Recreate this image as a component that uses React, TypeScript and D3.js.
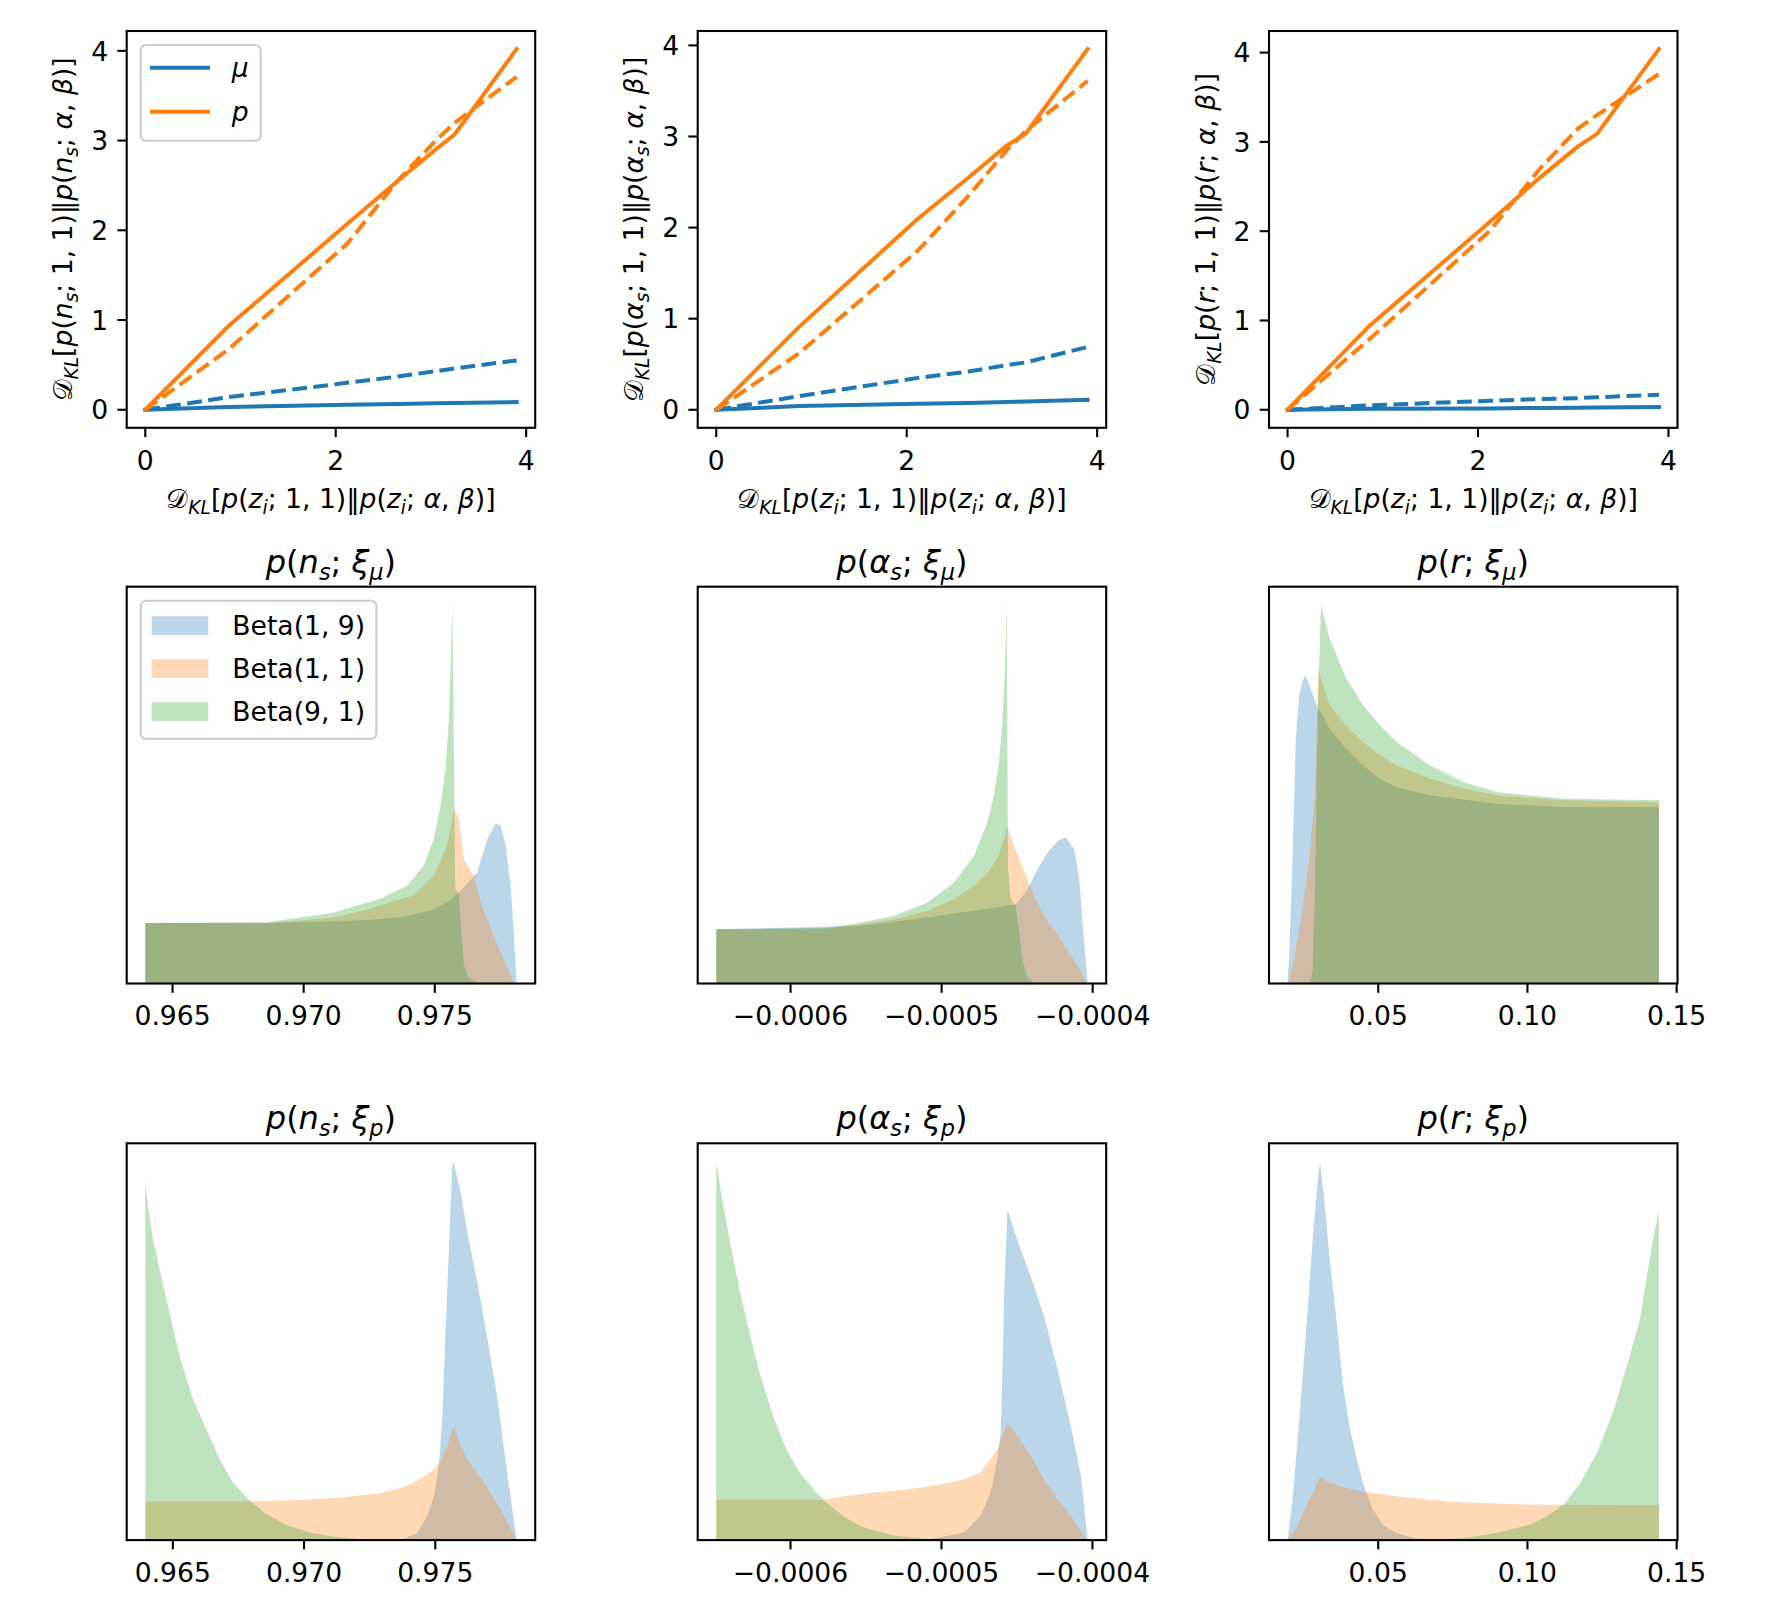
import React from 'react';
import * as d3 from 'd3';

const W = 1766;
const H = 1607;
const FONT = "'DejaVu Sans', sans-serif";
const CAL = "'DejaVu Sans', 'DejaVu Serif', 'Noto Sans', serif";

// ---------- Row 1 data: KL divergences ----------
const xKL = [0, 0.87, 2.12, 2.65, 3.05, 3.25, 3.9];

const nsMuSolid = [0, 0.03, 0.055, 0.065, 0.072, 0.076, 0.085];
const nsMuDashed = [0, 0.14, 0.3, 0.37, 0.43, 0.46, 0.55];
const nsPSolid = [0, 0.93, 2.07, 2.55, 2.9, 3.07, 4.02];
const nsPDashed = [0, 0.67, 1.85, 2.55, 3.0, 3.2, 3.71];

const asMuSolid = [0, 0.04, 0.065, 0.075, 0.085, 0.09, 0.11];
const asMuDashed = [0, 0.15, 0.35, 0.42, 0.49, 0.52, 0.69];
const asPSolid = [0, 0.91, 2.1, 2.55, 2.9, 3.03, 3.96];
const asPDashed = [0, 0.62, 1.75, 2.35, 2.85, 3.06, 3.61];

const rMuSolid = [0, 0.01, 0.015, 0.02, 0.022, 0.025, 0.03];
const rMuDashed = [0, 0.05, 0.1, 0.12, 0.13, 0.14, 0.167];
const rPSolid = [0, 0.95, 2.1, 2.6, 2.95, 3.09, 4.04];
const rPDashed = [0, 0.8, 2.0, 2.7, 3.15, 3.3, 3.76];

const klXTicks = [0, 2, 4];
const klYTicks = [0, 1, 2, 3, 4];

// ---------- Row 2 data: histograms p(.; xi_mu) ----------
const nsMuBlue = [[0.96396,0],[0.96396,16.0],[0.96859,16.0],[0.97113,16.4],[0.97241,16.8],[0.97368,17.5],[0.97495,19.5],[0.97547,21.5],[0.97592,24.0],[0.97662,29.4],[0.977,38.2],[0.97732,42.2],[0.97751,41.8],[0.9777,36.5],[0.97789,25.9],[0.97802,12.7],[0.97812,0]];
const nsMuOrange = [[0.96396,0],[0.96396,16.0],[0.96859,16.0],[0.97113,17.4],[0.97241,19.5],[0.97292,20.6],[0.9742,23.3],[0.97496,28.5],[0.97547,36.5],[0.97567,43.5],[0.97573,46.6],[0.97592,43.5],[0.97611,32.9],[0.97649,28.5],[0.97675,21.5],[0.97713,14.4],[0.97751,8.3],[0.97802,0]];
const nsMuGreen = [[0.96396,0],[0.96396,16.0],[0.96859,16.2],[0.97113,18.7],[0.97292,22.4],[0.97395,25.9],[0.97458,31.2],[0.97496,38.2],[0.97522,47.0],[0.97541,56.7],[0.97554,69.9],[0.97567,99.9],[0.97578,25.0],[0.97592,24.0],[0.976,14.0],[0.97611,5.0],[0.97623,2.0],[0.97662,0]];

const asMuBlue = [[-6.4917e-4,0],[-6.4917e-4,14.3],[-5.5393e-4,15.2],[-5.0964e-4,17.4],[-4.8749e-4,18.7],[-4.6534e-4,20.0],[-4.5094e-4,20.9],[-4.4319e-4,24.8],[-4.3655e-4,30.1],[-4.299e-4,34.5],[-4.2326e-4,37.6],[-4.1772e-4,38.5],[-4.1219e-4,35.4],[-4.0886e-4,27.5],[-4.0665e-4,16.0],[-4.0333e-4,0]];
const asMuOrange = [[-6.4917e-4,0],[-6.4917e-4,14.3],[-5.7829e-4,14.3],[-5.5393e-4,15.6],[-5.3178e-4,16.9],[-5.0964e-4,19.1],[-4.9192e-4,22.2],[-4.7863e-4,25.7],[-4.6977e-4,29.2],[-4.6313e-4,32.8],[-4.587e-4,38.1],[-4.5648e-4,41.6],[-4.5205e-4,36.3],[-4.4762e-4,31.9],[-4.4319e-4,27.5],[-4.3876e-4,23.1],[-4.3212e-4,17.8],[-4.2104e-4,11.6],[-4.0997e-4,4.6],[-4.0333e-4,0]];
const asMuGreen = [[-6.4917e-4,0],[-6.4917e-4,14.3],[-5.7608e-4,14.7],[-5.5393e-4,16.0],[-5.3178e-4,17.8],[-5.0964e-4,21.3],[-4.9192e-4,26.6],[-4.7863e-4,33.6],[-4.6977e-4,42.5],[-4.6534e-4,49.5],[-4.6202e-4,58.3],[-4.598e-4,68.9],[-4.5803e-4,83.0],[-4.5692e-4,99.7],[-4.5604e-4,30.0],[-4.5426e-4,22.2],[-4.5094e-4,20.4],[-4.4873e-4,14.3],[-4.4651e-4,6.3],[-4.4319e-4,1.5],[-4.3876e-4,0]];

const rMuBlue = [[0.01962,0],[0.02018,8],[0.0213,33],[0.02242,65],[0.02354,75.9],[0.02466,79.5],[0.02556,81.2],[0.02691,78.6],[0.02859,75.1],[0.02971,72.4],[0.03139,70.6],[0.03363,67.1],[0.03924,61.8],[0.04484,57.4],[0.05045,53.9],[0.05606,51.7],[0.06727,49.5],[0.08969,47.3],[0.11211,46.4],[0.14406,46.4],[0.14406,0]];
const rMuOrange = [[0.01962,0],[0.02018,0.5],[0.02242,9],[0.02466,20],[0.02691,33],[0.02859,48],[0.02937,65],[0.02993,83.0],[0.03139,78.6],[0.03363,73.3],[0.03924,67.8],[0.04484,63.6],[0.05045,60.1],[0.05606,57.4],[0.06727,53.9],[0.07848,51.3],[0.08969,49.5],[0.11211,48.2],[0.14406,47.7],[0.14406,0]];
const rMuGreen = [[0.02691,0],[0.02803,3],[0.02892,30],[0.02971,70.6],[0.03083,99.4],[0.03363,90.9],[0.03924,80.3],[0.04484,73.3],[0.05045,68.0],[0.05606,63.6],[0.06727,57.4],[0.07848,53.0],[0.08969,50.4],[0.11211,48.6],[0.14406,48.2],[0.14406,0]];

// ---------- Row 3 data: histograms p(.; xi_p) ----------
const nsPBlue = [[0.97368,0],[0.97431,1.9],[0.97469,6.3],[0.97495,11.6],[0.97514,19.6],[0.97527,32.8],[0.97539,54.8],[0.97552,76.8],[0.97565,98.8],[0.97569,99.7],[0.97597,91.8],[0.97622,81.2],[0.9766,68.0],[0.97699,53.0],[0.97737,37.2],[0.97762,24.0],[0.97788,10.7],[0.9781,0]];
const nsPOrange = [[0.96396,0],[0.96396,10.2],[0.9679,10.2],[0.96986,10.6],[0.97113,11.1],[0.97277,12.2],[0.97368,13.6],[0.97431,15.6],[0.97495,18.6],[0.9752,20.9],[0.97546,24.8],[0.97565,29.2],[0.97571,29.7],[0.97597,24.8],[0.97622,21.3],[0.97686,15.2],[0.97749,8.1],[0.9781,0]];
const nsPGreen = [[0.96395,0],[0.96395,94.5],[0.96404,88.8],[0.96424,79.5],[0.96449,71.6],[0.96487,60.2],[0.96525,48.7],[0.96576,37.3],[0.96627,29.3],[0.96678,21.4],[0.96729,15.2],[0.96793,10.4],[0.96857,6.9],[0.96933,4.0],[0.97022,2.0],[0.97112,0.9],[0.97213,0.3],[0.97368,0.05],[0.97495,0]];

const asPBlue = [[-5.074e-4,0],[-5.074e-4,0.3],[-4.852e-4,2.0],[-4.741e-4,6.4],[-4.675e-4,12.6],[-4.63e-4,21.4],[-4.608e-4,28.5],[-4.597e-4,43.4],[-4.585e-4,65.0],[-4.563e-4,87.5],[-4.497e-4,79.5],[-4.409e-4,69.9],[-4.32e-4,59.3],[-4.231e-4,45.2],[-4.143e-4,30.2],[-4.076e-4,17.0],[-4.032e-4,0]];
const asPOrange = [[-6.4917e-4,0],[-6.4917e-4,10.7],[-5.7829e-4,10.7],[-5.6501e-4,11.6],[-5.4286e-4,12.7],[-5.2071e-4,13.5],[-4.9856e-4,14.9],[-4.852e-4,16.1],[-4.741e-4,17.9],[-4.63e-4,24.0],[-4.563e-4,31.1],[-4.497e-4,27.6],[-4.409e-4,22.3],[-4.32e-4,16.1],[-4.231e-4,10.8],[-4.143e-4,6.4],[-4.043e-4,0.3],[-4.0333e-4,0]];
const asPGreen = [[-6.4917e-4,0],[-6.4917e-4,100.2],[-6.4585e-4,91.8],[-6.4031e-4,79.5],[-6.3367e-4,66.2],[-6.2702e-4,54.8],[-6.2038e-4,44.2],[-6.1152e-4,32.8],[-6.0266e-4,24.0],[-5.938e-4,17.8],[-5.8273e-4,12.5],[-5.7608e-4,9.9],[-5.6501e-4,6.3],[-5.5393e-4,3.7],[-5.3178e-4,1.2],[-5.0964e-4,0.35],[-4.8749e-4,0]];

const rPBlue = [[0.01962,0],[0.0213,10.7],[0.02354,31.9],[0.02579,54.8],[0.02803,79.5],[0.02971,95.3],[0.03049,100.2],[0.03195,90.0],[0.03363,75.1],[0.03588,59.2],[0.03812,41.6],[0.04036,30.1],[0.0426,22.2],[0.04484,15.2],[0.04821,8.1],[0.05157,4.1],[0.05606,1.9],[0.06166,0.6],[0.06727,0.2],[0.07848,0]];
const rPOrange = [[0.01962,0],[0.02242,2.8],[0.02579,9.0],[0.02915,14.3],[0.03049,16.7],[0.03363,15.2],[0.03924,13.8],[0.04484,12.9],[0.05606,11.6],[0.06727,10.7],[0.07848,10.0],[0.08969,9.7],[0.1009,9.4],[0.12332,9.4],[0.14406,9.3],[0.14406,0]];
const rPGreen = [[0.06727,0],[0.07287,0.2],[0.07848,0.5],[0.08969,1.9],[0.1009,4.1],[0.1065,6.3],[0.11211,9.4],[0.11772,15.2],[0.12332,23.1],[0.12893,34.5],[0.13453,49.5],[0.1379,59.2],[0.14014,70.6],[0.14238,81.2],[0.14406,86.9],[0.14406,0]];

const nsTicks = [0.965, 0.97, 0.975];
const asTicks = [-0.0006, -0.0005, -0.0004];
const rTicks = [0.05, 0.1, 0.15];

const histLabels = ['Beta(1, 9)', 'Beta(1, 1)', 'Beta(9, 1)'];
const histColors = ['#1f77b4', '#ff7f0e', '#2ca02c'];
const lineLabels = ['\u03bc', 'p'];

// ---------- layout ----------
const COLS = [126.7, 697.7, 1269];
const ROWS = [31, 586.7, 1143.3];
const AW = 408.5;
const AH = 396.8;
const FS = 26.6;
const TFS = 32;
const TICK = 9.3;
const SPINE = 2.1;

type Seg = { t: string; i?: boolean; sub?: boolean; cal?: boolean };
const S = (t: string, f = ''): Seg => ({ t, i: f.includes('i'), sub: f.includes('s'), cal: f.includes('c') });

function Rich({ segs, size }: { segs: Seg[]; size: number }) {
  let cur = 0;
  return (
    <>
      {segs.map((s, k) => {
        const target = s.sub ? size * 0.22 : 0;
        const dy = target - cur;
        cur = target;
        return (
          <tspan
            key={k}
            dy={dy !== 0 ? dy : undefined}
            fontSize={s.sub ? size * 0.7 : size}
            fontStyle={s.i ? 'italic' : 'normal'}
            fontFamily={s.cal ? CAL : FONT}
          >
            {s.t}
          </tspan>
        );
      })}
    </>
  );
}

function dklLabel(v: Seg[]): Seg[] {
  return [
    S('\u{1D49F}', 'c'), S('KL', 'is'), S('['), S('p', 'i'), S('('), ...v,
    S('; 1, 1)\u2016'), S('p', 'i'), S('('), ...v,
    S('; '), S('\u03b1', 'i'), S(', '), S('\u03b2', 'i'), S(')]'),
  ];
}

const varNs = [S('n', 'i'), S('s', 'is')];
const varAs = [S('\u03b1', 'i'), S('s', 'is')];
const varR = [S('r', 'i')];
const varZ = [S('z', 'i'), S('i', 'is')];

function Frame({ left, top }: { left: number; top: number }) {
  return <rect x={left} y={top} width={AW} height={AH} fill="none" stroke="#000" strokeWidth={SPINE} />;
}

function KLPanel({ col, muS, muD, pS, pD, v, legend }: any) {
  const left = COLS[col];
  const top = ROWS[0];
  const xe = d3.extent(xKL) as [number, number];
  const ye = d3.extent([...muS, ...muD, ...pS, ...pD]) as [number, number];
  const xp = (xe[1] - xe[0]) * 0.05;
  const yp = (ye[1] - ye[0]) * 0.05;
  const x = d3.scaleLinear().domain([xe[0] - xp, xe[1] + xp]).range([left, left + AW]);
  const y = d3.scaleLinear().domain([ye[0] - yp, ye[1] + yp]).range([top + AH, top]);
  const line = d3.line<number>().x((_, i) => x(xKL[i])).y((d) => y(d));
  const bottom = top + AH;
  const dash = '14.8,6.4';
  return (
    <g>
      <path d={line(muS)!} fill="none" stroke={histColors[0]} strokeWidth={4} strokeLinecap="square" strokeLinejoin="round" />
      <path d={line(pS)!} fill="none" stroke={histColors[1]} strokeWidth={4} strokeLinecap="square" strokeLinejoin="round" />
      <path d={line(muD)!} fill="none" stroke={histColors[0]} strokeWidth={4} strokeDasharray={dash} strokeLinejoin="round" />
      <path d={line(pD)!} fill="none" stroke={histColors[1]} strokeWidth={4} strokeDasharray={dash} strokeLinejoin="round" />
      <Frame left={left} top={top} />
      {klXTicks.map((t) => (
        <g key={'x' + t}>
          <line x1={x(t)} x2={x(t)} y1={bottom} y2={bottom + TICK} stroke="#000" strokeWidth={SPINE} />
          <text x={x(t)} y={bottom + 41.7} textAnchor="middle" fontSize={FS} fontFamily={FONT}>{d3.format('d')(t)}</text>
        </g>
      ))}
      {klYTicks.map((t) => (
        <g key={'y' + t}>
          <line x1={left - TICK} x2={left} y1={y(t)} y2={y(t)} stroke="#000" strokeWidth={SPINE} />
          <text x={left - 2 * TICK} y={y(t) + FS * 0.365} textAnchor="end" fontSize={FS} fontFamily={FONT}>{d3.format('d')(t)}</text>
        </g>
      ))}
      <text x={left + AW / 2} y={bottom + 80.5} textAnchor="middle" fontSize={FS} fontFamily={FONT} style={{ whiteSpace: 'pre' }}>
        <Rich segs={dklLabel(varZ)} size={FS} />
      </text>
      <text transform={`translate(${left - 54.3},${top + AH / 2}) rotate(-90)`} textAnchor="middle" fontSize={FS} fontFamily={FONT} style={{ whiteSpace: 'pre' }}>
        <Rich segs={dklLabel(v)} size={FS} />
      </text>
      {legend && (
        <g>
          <rect x={left + 14} y={top + 14} width={120} height={95.7} rx={5.3} fill="#fff" fillOpacity={0.8} stroke="#ccc" strokeWidth={SPINE} />
          {lineLabels.map((lab, k) => (
            <g key={lab}>
              <line x1={left + 23.3} x2={left + 83.3} y1={top + 36.7 + k * 44} y2={top + 36.7 + k * 44} stroke={histColors[k]} strokeWidth={4} />
              <text x={left + 105} y={top + 36.7 + k * 44 + 9.6} fontSize={FS} fontFamily={FONT} fontStyle="italic">{lab}</text>
            </g>
          ))}
        </g>
      )}
    </g>
  );
}

function HistPanel({ col, row, series, ticks, fmt, title, legend }: any) {
  const left = COLS[col];
  const top = ROWS[row];
  const bottom = top + AH;
  const xs = (series as number[][][]).flatMap((s) => s.map((d) => d[0]));
  const ys = (series as number[][][]).flatMap((s) => s.map((d) => d[1]));
  const xe = d3.extent(xs) as [number, number];
  const xp = (xe[1] - xe[0]) * 0.05;
  const x = d3.scaleLinear().domain([xe[0] - xp, xe[1] + xp]).range([left, left + AW]);
  const y = d3.scaleLinear().domain([0, (d3.max(ys) as number) * 1.05]).range([bottom, top]);
  const area = d3.area<number[]>().x((d) => x(d[0])).y0(y(0)).y1((d) => y(d[1]));
  return (
    <g>
      {(series as number[][][]).map((s, k) => (
        <path key={k} d={area(s)!} fill={histColors[k]} fillOpacity={0.3} stroke="none" />
      ))}
      <Frame left={left} top={top} />
      {(ticks as number[]).map((t) => (
        <g key={t}>
          <line x1={x(t)} x2={x(t)} y1={bottom} y2={bottom + TICK} stroke="#000" strokeWidth={SPINE} />
          <text x={x(t)} y={bottom + 41.7} textAnchor="middle" fontSize={FS} fontFamily={FONT}>{d3.format(fmt)(t)}</text>
        </g>
      ))}
      <text x={left + AW / 2} y={top - 14} textAnchor="middle" fontSize={TFS} fontFamily={FONT} style={{ whiteSpace: 'pre' }}>
        <Rich segs={title} size={TFS} />
      </text>
      {legend && (
        <g>
          <rect x={left + 14} y={top + 14} width={235.7} height={138} rx={5.3} fill="#fff" fillOpacity={0.8} stroke="#ccc" strokeWidth={SPINE} />
          {histLabels.map((lab, k) => (
            <g key={lab}>
              <rect x={left + 25} y={top + 29.5 + k * 43} width={56.6} height={18.8} fill={histColors[k]} fillOpacity={0.3} />
              <text x={left + 105.6} y={top + 38.9 + k * 43 + 9.6} fontSize={FS} fontFamily={FONT}>{lab}</text>
            </g>
          ))}
        </g>
      )}
    </g>
  );
}

const tMu = [S('\u03be', 'i'), S('\u03bc', 'is')];
const tP = [S('\u03be', 'i'), S('p', 'is')];
const mkTitle = (v: Seg[], xi: Seg[]) => [S('p', 'i'), S('('), ...v, S('; '), ...xi, S(')')];

export default function App() {
  return (
    <svg width={W} height={H} style={{ position: 'absolute', left: 0, top: 0, background: '#fff' }}>
      <rect width={W} height={H} fill="#fff" />
      <KLPanel col={0} muS={nsMuSolid} muD={nsMuDashed} pS={nsPSolid} pD={nsPDashed} v={varNs} legend />
      <KLPanel col={1} muS={asMuSolid} muD={asMuDashed} pS={asPSolid} pD={asPDashed} v={varAs} />
      <KLPanel col={2} muS={rMuSolid} muD={rMuDashed} pS={rPSolid} pD={rPDashed} v={varR} />

      <HistPanel col={0} row={1} series={[nsMuBlue, nsMuOrange, nsMuGreen]} ticks={nsTicks} fmt=".3f" title={mkTitle(varNs, tMu)} legend />
      <HistPanel col={1} row={1} series={[asMuBlue, asMuOrange, asMuGreen]} ticks={asTicks} fmt=".4f" title={mkTitle(varAs, tMu)} />
      <HistPanel col={2} row={1} series={[rMuBlue, rMuOrange, rMuGreen]} ticks={rTicks} fmt=".2f" title={mkTitle(varR, tMu)} />

      <HistPanel col={0} row={2} series={[nsPBlue, nsPOrange, nsPGreen]} ticks={nsTicks} fmt=".3f" title={mkTitle(varNs, tP)} />
      <HistPanel col={1} row={2} series={[asPBlue, asPOrange, asPGreen]} ticks={asTicks} fmt=".4f" title={mkTitle(varAs, tP)} />
      <HistPanel col={2} row={2} series={[rPBlue, rPOrange, rPGreen]} ticks={rTicks} fmt=".2f" title={mkTitle(varR, tP)} />
    </svg>
  );
}
